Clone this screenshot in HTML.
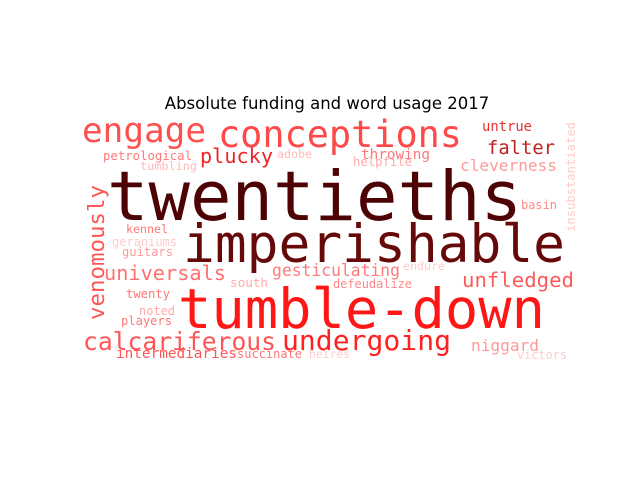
<!DOCTYPE html>
<html><head><meta charset="utf-8"><style>
html,body{margin:0;padding:0;background:#fff;width:640px;height:480px;overflow:hidden}
svg{display:block}
text{font-family:"DejaVu Sans Mono","Liberation Mono",monospace}
</style></head><body>
<svg id="chart" width="640" height="480" viewBox="0 0 640 480">
<text x="327" y="109" text-anchor="middle" style="font-family:'DejaVu Sans','Liberation Sans',sans-serif" font-size="16.5" fill="#000">Absolute funding and word usage 2017</text>
<g id="words"></g>
</svg>
<script>
const words=["twentieths","imperishable","tumble-down","conceptions","engage","undergoing","calcariferous","venomously","universals","gesticulating","unfledged","falter","plucky","cleverness","untrue","throwing","helpfile","petrological","tumbling","adobe","insubstantiated","basin","kennel","geraniums","guitars","south","twenty","noted","players","intermediaries","succinate","heires","endure","defeudalize","niggard","victors"];
const sizes=[69,53,55,37,34,28,24.6,22.4,20,16.4,20.7,18.8,20,16,13.8,14.3,12.2,12.3,11.8,11.6,12.2,12,11.6,12,12.1,12.6,12.2,12,12.1,14.4,12,11.4,11.6,12,16,12];
const colors=["#4d0303","#650909","#ff1616","#ff4848","#ff5050","#ff2020","#ff5555","#ff5555","#ff7070","#ff7a7a","#ff5a5a","#c02020","#ee2525","#ff9a9a","#e83030","#ff7777","#ffaaaa","#ff7777","#ffbbbb","#ffbbbb","#ffcccc","#ff8888","#ff7777","#ffcccc","#ff9999","#ffaaaa","#ff7777","#ffaaaa","#ff7777","#ff5555","#ff7777","#ffcccc","#ffcccc","#ff8888","#ff9999","#ffcccc"];
const xs=[107,183,178,218,82,282,83,104,104,272,462,487,200,460,482,361,353,103,140,277,575,521,126,112,122,230,126,139,121,116,237,309,403,333,471,517];
const ys=[220,262,328,147,142,350,350,320,280,276,287,154,163,171,131,159,166,160,170,158,232,209,233,246,256,287,298,315,325,358,358,358,270,288,351,359];
const ws=[415,382,367,244,124,169,193,135,122,128,112,68,73,97,50,69,59,89,57,35,110,36,42,65,51,38,44,36,51,121,65,41,42,79,68,50];
const vert=[7,20];
const g=document.getElementById('words');
words.forEach((w,i)=>{
  const t=document.createElementNS('http://www.w3.org/2000/svg','text');
  
  
  t.setAttribute('font-size',sizes[i]);
  t.setAttribute('fill',colors[i]);
  t.setAttribute('textLength',ws[i]);
  t.setAttribute('lengthAdjust','spacingAndGlyphs');
  if(vert.includes(i)){
    t.setAttribute('transform','translate('+xs[i]+','+ys[i]+') rotate(-90)');
    t.setAttribute('x',0);t.setAttribute('y',0);
  }else{
    t.setAttribute('x',xs[i]);t.setAttribute('y',ys[i]);
  }
  t.textContent=w;
  g.appendChild(t);
});
</script>
</body></html>
